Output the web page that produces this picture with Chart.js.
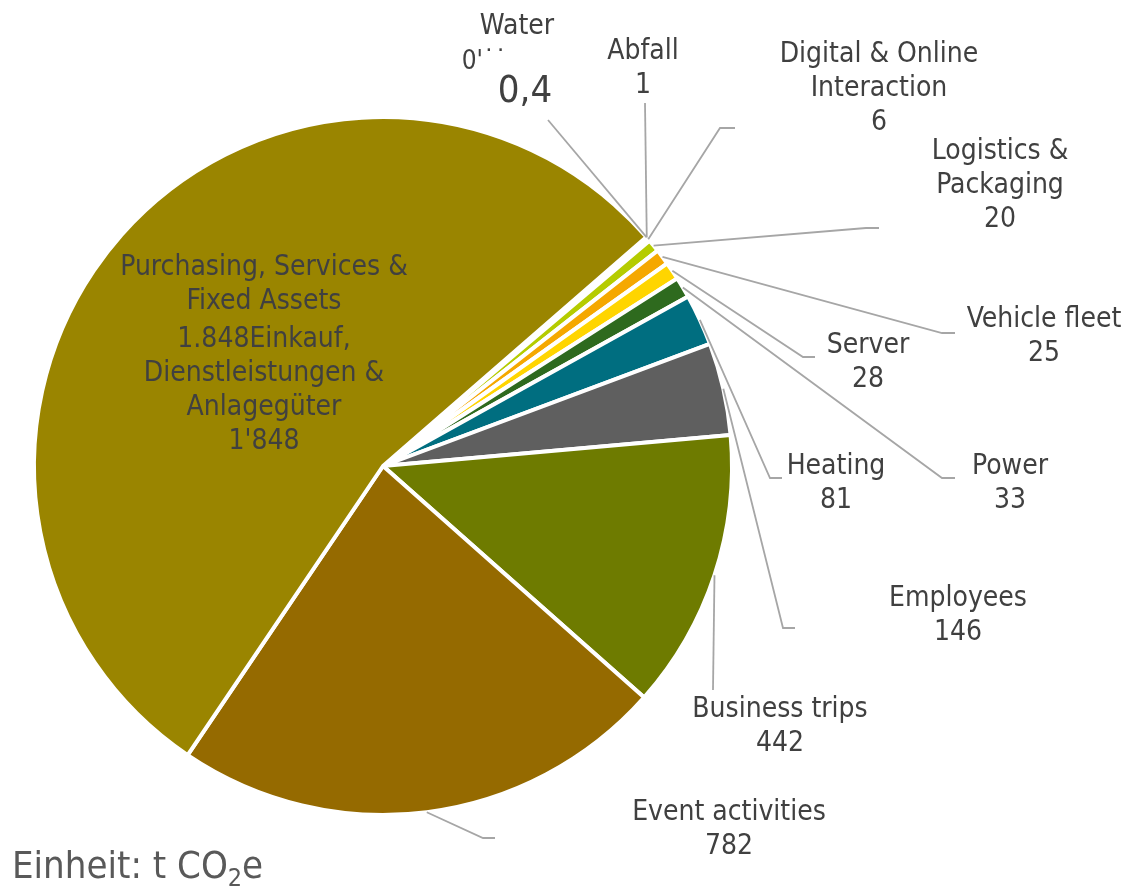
<!DOCTYPE html>
<html>
<head>
<meta charset="utf-8">
<script src="https://cdn.jsdelivr.net/npm/chart.js@4"></script>
<style>
  html, body { margin: 0; padding: 0; background: #fff; }
  #wrap { position: relative; width: 1129px; height: 894px; }
</style>
</head>
<body>
<div id="wrap"><canvas id="pieChart" width="1129" height="894"></canvas></div>
<script>
// Data, in clockwise order starting right after the big slice
const categories = ["Water", "Abfall", "Digital & Online Interaction", "Logistics & Packaging",
  "Vehicle fleet", "Server", "Power", "Heating", "Employees", "Business trips",
  "Event activities", "Purchasing, Services & Fixed Assets"];
const values = [0.4, 1, 6, 20, 25, 28, 33, 81, 146, 442, 782, 1848];
const sliceColors = ["#8fb8c8", "#c8c8c8", "#9dc3e6", "#b5cc00", "#f5a800", "#ffd500",
  "#2e6a1e", "#006e80", "#5f5f5f", "#6e7b00", "#956a00", "#9a8500"];
// label text as it wraps in the picture
const nameLines = [["Water"], ["Abfall"], ["Digital & Online", "Interaction"], ["Logistics &", "Packaging"],
  ["Vehicle fleet"], ["Server"], ["Power"], ["Heating"], ["Employees"], ["Business trips"],
  ["Event activities"], ["Purchasing, Services &", "Fixed Assets", "1.848Einkauf,", "Dienstleistungen &", "Anlagegüter"]];

const FONT = '"DejaVu Sans Condensed", Tahoma, "DejaVu Sans", sans-serif';

// label placement (annotation layout): text centre, first line y, leader path after the slice edge
const labelLayout = [
  { x: 517, y: 27, path: [[548, 120]] },
  { x: 643, y: 52, path: [[645, 103]] },
  { x: 879, y: 55, path: [[720, 128], [735, 128]] },
  { x: 1000, y: 152, path: [[866, 228], [879, 228]] },
  { x: 1044, y: 320, path: [[942, 333], [955, 333]] },
  { x: 868, y: 346, path: [[803, 357], [815, 357]] },
  { x: 1010, y: 467, path: [[942, 478], [955, 478]] },
  { x: 836, y: 467, path: [[770, 478], [782, 478]] },
  { x: 958, y: 599, path: [[783, 628], [795, 628]] },
  { x: 780, y: 710, path: [[713, 690]] },
  { x: 729, y: 813, path: [[483, 838], [495, 838]] },
  { x: 264, y: 268, path: null }
];

function fmt(v) {
  if (v >= 1000) return Math.floor(v / 1000) + "'" + String(v % 1000).padStart(3, "0");
  return String(v).replace(".", ",");
}

const leaderLabels = {
  id: "leaderLabels",
  afterDatasetsDraw(chart) {
    const ctx = chart.ctx;
    const arcs = chart.getDatasetMeta(0).data;
    ctx.save();
    // leader lines
    ctx.strokeStyle = "#a6a6a6";
    ctx.lineWidth = 1.8;
    arcs.forEach((arc, i) => {
      const lay = labelLayout[i];
      if (!lay.path) return;
      const p = arc.getProps(["x", "y", "startAngle", "endAngle", "outerRadius"], true);
      const mid = (p.startAngle + p.endAngle) / 2;
      ctx.beginPath();
      ctx.moveTo(p.x + Math.cos(mid) * p.outerRadius, p.y + Math.sin(mid) * p.outerRadius);
      lay.path.forEach(pt => ctx.lineTo(pt[0], pt[1]));
      ctx.stroke();
    });
    // text
    ctx.fillStyle = "#404040";
    ctx.textAlign = "center";
    ctx.textBaseline = "middle";
    ctx.font = "28px " + FONT;
    arcs.forEach((arc, i) => {
      const lay = labelLayout[i];
      const lines = nameLines[i];
      let y = lay.y;
      lines.forEach((ln, k) => {
        if (i === 11 && k === 2) y += 4;
        ctx.fillText(ln, lay.x, y);
        y += 34;
      });
      if (i === 0) {
        // overlapping value label of the tiny water slice
        ctx.font = "26px " + FONT;
        ctx.fillText("0'˙˙", 484, 62);
        ctx.font = "38px " + FONT;
        ctx.fillText(fmt(values[i]), 525, 92);
        ctx.font = "28px " + FONT;
      } else {
        ctx.fillText(fmt(values[i]), lay.x, y);
      }
    });
    // unit note
    ctx.textAlign = "left";
    ctx.textBaseline = "alphabetic";
    ctx.fillStyle = "#595959";
    ctx.font = "38px " + FONT;
    const base = 878;
    let x = 12;
    ctx.fillText("Einheit: t CO", x, base);
    x += ctx.measureText("Einheit: t CO").width;
    ctx.font = "25px " + FONT;
    ctx.fillText("2", x, base + 8);
    x += ctx.measureText("2").width;
    ctx.font = "38px " + FONT;
    ctx.fillText("e", x, base);
    ctx.restore();
  }
};

const ctx = document.getElementById("pieChart").getContext("2d");
new Chart(ctx, {
  type: "pie",
  data: {
    labels: categories,
    datasets: [{
      data: values,
      backgroundColor: sliceColors,
      borderColor: "#ffffff",
      borderWidth: 4
    }]
  },
  options: {
    responsive: false,
    animation: false,
    rotation: 49,
    layout: { padding: { left: 32, top: 115, right: 395, bottom: 77 } },
    plugins: {
      legend: { display: false },
      tooltip: { enabled: false }
    }
  },
  plugins: [leaderLabels]
});
</script>
</body>
</html>
